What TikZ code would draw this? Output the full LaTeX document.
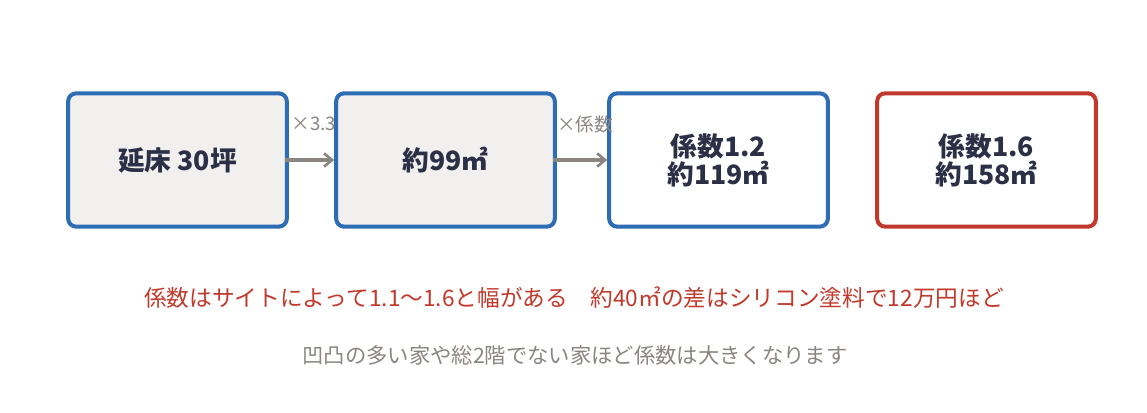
\documentclass[tikz,border=0pt]{standalone}
\usepackage{fontspec}
\setmainfont{Noto Sans CJK JP}
\newfontfamily\jp{Noto Sans CJK JP}
\usetikzlibrary{arrows.meta}
\definecolor{boxblue}{HTML}{2E6DB4}
\definecolor{boxred}{HTML}{C0392B}
\definecolor{boxfill}{HTML}{F1F0EF}
\definecolor{txtdark}{HTML}{2C3047}
\definecolor{arrgray}{HTML}{8A8580}
\definecolor{notered}{HTML}{C0392B}
\tikzset{
  stepbox/.style={draw=boxblue, line width=3pt, rounded corners=6pt, minimum width=164pt, minimum height=100pt, inner sep=0pt, align=center, text=txtdark, font=\jp\bfseries\fontsize{20}{21}\selectfont},
  grayfill/.style={fill=boxfill},
  whitefill/.style={fill=white},
  redbox/.style={draw=boxred},
  conn/.style={draw=arrgray, line width=2.6pt, -{Straight Barb[length=6pt,width=10pt,line width=2pt]}},
  lab/.style={text=arrgray, font=\jp\fontsize{14}{15}\selectfont, inner sep=0pt},
  note/.style={font=\jp\fontsize{16.5}{18}\selectfont, inner sep=0pt}
}
\begin{document}
\begin{tikzpicture}[x=0.75pt,y=-0.75pt]
\useasboundingbox[fill=white] (0,0) rectangle (1147,413);
\node[stepbox,grayfill] (a) at (177.5,160) {延床 30坪};
\node[stepbox,grayfill] (b) at (445.5,160) {約99㎡};
\node[stepbox,whitefill] (c) at (718.5,160) {係数1.2\\約119㎡};
\node[stepbox,whitefill,redbox] (d) at (986.5,160) {係数1.6\\約158㎡};
\draw[conn] ([xshift=-3pt]a.east) -- (b.west);
\draw[conn] ([xshift=-3pt]b.east) -- (c.west);
\node[lab] (l1) at (314,124) {×3.3};
\node[lab] (l2) at (585,124) {×係数};
\node[note,text=notered,font=\jp\fontsize{17}{18}\selectfont] (n1) at (574,298) {係数はサイトによって1.1〜1.6と幅がある\hspace{1em}約40㎡の差はシリコン塗料で12万円ほど};
\node[note,text=arrgray,font=\jp\fontsize{16}{18}\selectfont] (n2) at (575,355) {凹凸の多い家や総2階でない家ほど係数は大きくなります};
\end{tikzpicture}
\end{document}
